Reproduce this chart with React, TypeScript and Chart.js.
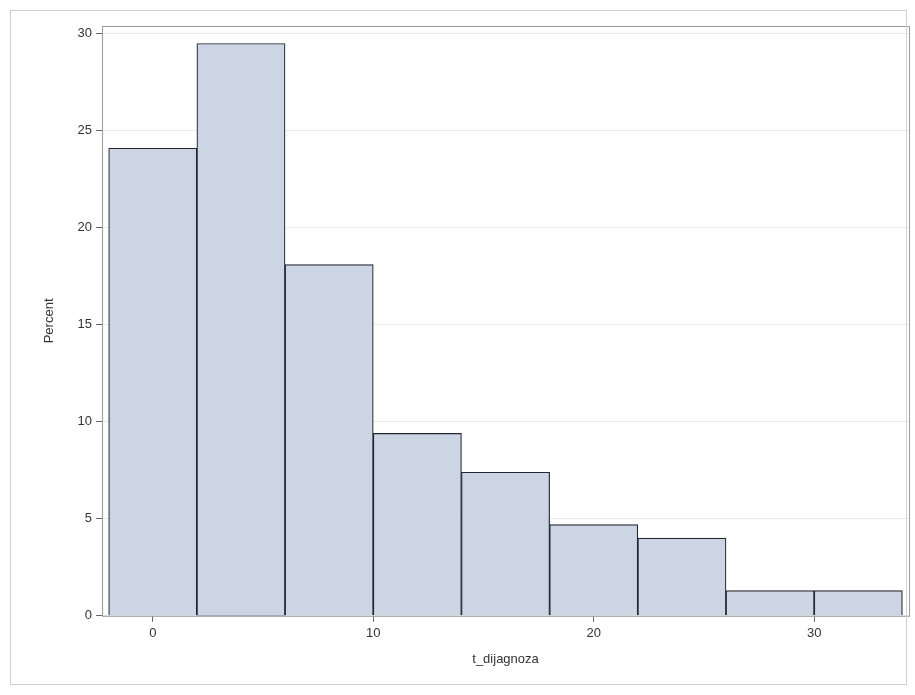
import React, { useEffect, useRef } from "react";
import { Chart, registerables } from "chart.js";

Chart.register(...registerables);

// bin midpoints (width 4) and percent per bin
const binMidpoints = [0, 4, 8, 12, 16, 20, 24, 28, 32];
const percents = [24.1, 29.5, 18.1, 9.4, 7.4, 4.7, 4.0, 1.3, 1.3];
const xTicks = [0, 10, 20, 30];
const yTicks = [0, 5, 10, 15, 20, 25, 30];

const framePlugin = {
  id: "frame",
  afterDraw(chart: any) {
    const { ctx, chartArea: a } = chart;
    ctx.save();
    ctx.strokeStyle = "#9a9a9a";
    ctx.lineWidth = 1;
    ctx.strokeRect(a.left + 0.5, a.top + 0.5, a.right - a.left, a.bottom - a.top);
    ctx.strokeStyle = "#d0d0d0";
    ctx.strokeRect(10.5, 10.5, chart.width - 19, chart.height - 21);
    ctx.restore();
  },
};

const App: React.FC = () => {
  const chartRef = useRef<HTMLCanvasElement | null>(null);

  useEffect(() => {
    document.body.style.margin = "0";
    if (!chartRef.current) return;
    const ctx = chartRef.current.getContext("2d");
    if (!ctx) return;

    const font = { family: "Liberation Sans", size: 13 };

    const chart = new Chart(ctx, {
      type: "bar",
      data: {
        datasets: [
          {
            data: binMidpoints.map((x, i) => ({ x, y: percents[i] })),
            backgroundColor: "#cbd5e4",
            borderColor: "#22262e",
            borderWidth: 1.2,
            barPercentage: 1,
            categoryPercentage: 1,
          },
        ],
      },
      options: {
        animation: false,
        responsive: false,
        layout: { padding: { left: 38, right: 6, top: 26, bottom: 24 } },
        plugins: { legend: { display: false }, tooltip: { enabled: false } },
        scales: {
          x: {
            type: "linear",
            min: -2.3,
            max: 34.3,
            offset: false,
            afterBuildTicks: (axis: any) => {
              axis.ticks = xTicks.map((v) => ({ value: v }));
            },
            grid: { display: true, offset: false, drawOnChartArea: false, drawTicks: true, tickLength: 6, tickColor: "#666" },
            border: { display: false },
            ticks: { color: "#333", font, padding: 4 },
            title: { display: true, text: "t_dijagnoza", color: "#333", font, padding: { top: 6 } },
          },
          y: {
            min: 0,
            max: 30.4,
            afterBuildTicks: (axis: any) => {
              axis.ticks = yTicks.map((v) => ({ value: v }));
            },
            grid: { color: "#ebebeb", tickColor: "#666", tickLength: 6 },
            border: { display: false },
            ticks: { color: "#333", font, padding: 4 },
            title: { display: true, text: "Percent", color: "#333", font, padding: { bottom: 16 } },
          },
        },
      },
      plugins: [framePlugin],
    });

    return () => {
      chart.destroy();
    };
  }, []);

  return <canvas ref={chartRef} width={915} height={695}></canvas>;
};

export default App;
